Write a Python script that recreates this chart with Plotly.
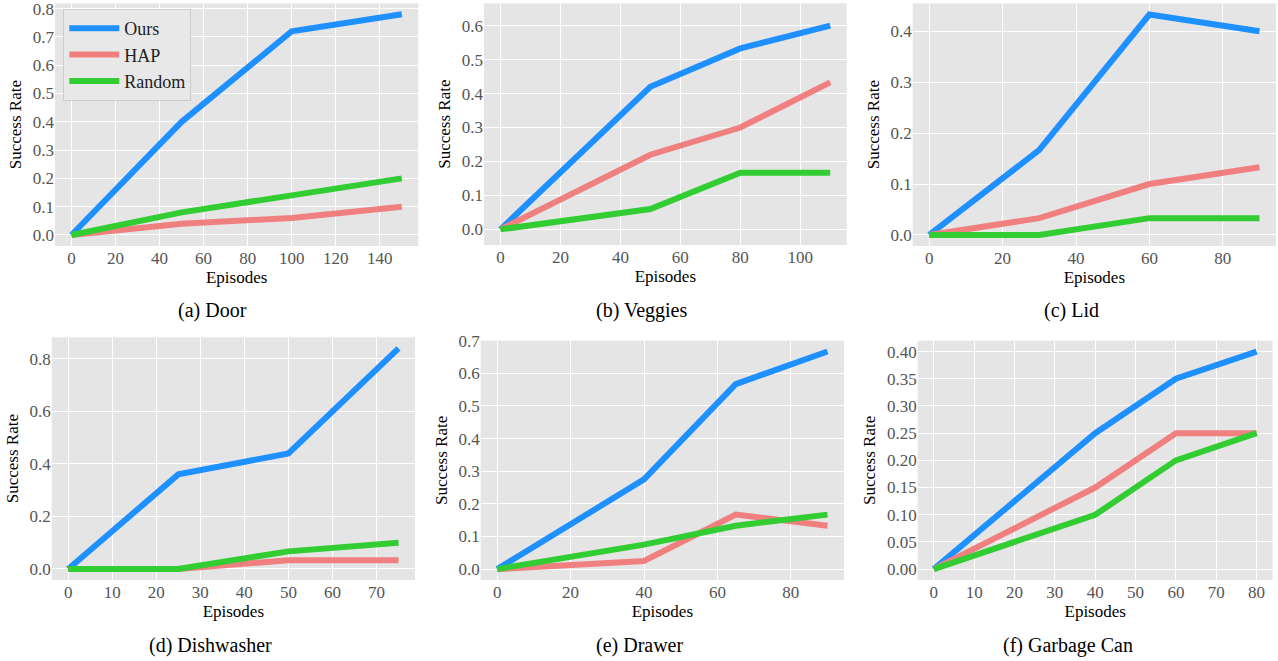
import plotly.graph_objects as go

W, H = 1278, 661

# ---------------- data ----------------
methods = ["Ours", "HAP", "Random"]
colors = {"Ours": "#1E90FF", "HAP": "#F08080", "Random": "#32CD32"}

door_x = [0, 50, 100, 150]
door_ours = [0.0, 0.40, 0.72, 0.78]
door_hap = [0.0, 0.04, 0.06, 0.10]
door_random = [0.0, 0.08, 0.14, 0.20]

veggies_x = [0, 50, 80, 110]
veggies_ours = [0.0, 0.42, 0.533, 0.60]
veggies_hap = [0.0, 0.22, 0.30, 0.433]
veggies_random = [0.0, 0.06, 0.167, 0.167]

lid_x = [0, 30, 60, 90]
lid_ours = [0.0, 0.167, 0.433, 0.40]
lid_hap = [0.0, 0.033, 0.10, 0.133]
lid_random = [0.0, 0.0, 0.033, 0.033]

dish_x = [0, 25, 50, 75]
dish_ours = [0.0, 0.36, 0.44, 0.84]
dish_hap = [0.0, 0.0, 0.033, 0.033]
dish_random = [0.0, 0.0, 0.067, 0.10]

drawer_x = [0, 40, 65, 90]
drawer_ours = [0.0, 0.275, 0.567, 0.667]
drawer_hap = [0.0, 0.025, 0.167, 0.133]
drawer_random = [0.0, 0.075, 0.133, 0.167]

garbage_x = [0, 40, 60, 80]
garbage_ours = [0.0, 0.25, 0.35, 0.40]
garbage_hap = [0.0, 0.15, 0.25, 0.25]
garbage_random = [0.0, 0.10, 0.20, 0.25]

captions = ["(a) Door", "(b) Veggies", "(c) Lid", "(d) Dishwasher", "(e) Drawer", "(f) Garbage Can"]

panels = [
    (door_x, {"Ours": door_ours, "HAP": door_hap, "Random": door_random}),
    (veggies_x, {"Ours": veggies_ours, "HAP": veggies_hap, "Random": veggies_random}),
    (lid_x, {"Ours": lid_ours, "HAP": lid_hap, "Random": lid_random}),
    (dish_x, {"Ours": dish_ours, "HAP": dish_hap, "Random": dish_random}),
    (drawer_x, {"Ours": drawer_ours, "HAP": drawer_hap, "Random": drawer_random}),
    (garbage_x, {"Ours": garbage_ours, "HAP": garbage_hap, "Random": garbage_random}),
]

# ---------------- layout (pixel boxes of each plot area) ----------------
boxes = [
    (55, 418.3, 3.3, 246),
    (484, 846.7, 3.3, 245),
    (912.7, 1276, 3.3, 246),
    (51.7, 415, 337.3, 580),
    (480.7, 844, 340.7, 580),
    (917.7, 1272.7, 340.7, 580),
]
xranges = [[-7.5, 157.5], [-5.5, 115.5], [-4.5, 94.5], [-3.75, 78.75], [-4.5, 94.5], [-4, 84]]
yranges = [[-0.039, 0.819], [-0.046, 0.666], [-0.0217, 0.455], [-0.042, 0.882], [-0.0333, 0.70], [-0.02, 0.42]]
xdticks = [20, 20, 20, 10, 20, 10]
ydticks = [0.1, 0.1, 0.1, 0.2, 0.1, 0.05]
yformats = [".1f", ".1f", ".1f", ".1f", ".1f", ".2f"]
caption_pos = [(212, 311), (641, 311), (1071, 311), (210, 645), (639, 645), (1068, 645)]

FONT = "Liberation Serif"
fig = go.Figure()

for i, (xs, series) in enumerate(panels):
    n = "" if i == 0 else str(i + 1)
    for m in methods:
        fig.add_trace(go.Scatter(
            x=xs, y=series[m], mode="lines", name=m,
            line=dict(color=colors[m], width=6),
            xaxis="x" + n, yaxis="y" + n,
            showlegend=(i == 0),
        ))
    x0, x1, y0, y1 = boxes[i]
    axcommon = dict(
        showgrid=True, gridcolor="white", gridwidth=1.2, zeroline=False,
        showline=False, ticks="", automargin=False, ticklabeloverflow="allow",
        tickfont=dict(family=FONT, size=17, color="#555555"),
    )
    title_font = dict(family=FONT, size=17, color="black")
    fig.layout["xaxis" + n] = dict(
        domain=[x0 / W, x1 / W], anchor="y" + n, range=xranges[i],
        tick0=0, dtick=xdticks[i],
        title=dict(text="Episodes", standoff=2, font=title_font),
        **axcommon,
    )
    fig.layout["yaxis" + n] = dict(
        domain=[1 - y1 / H, 1 - y0 / H], anchor="x" + n, range=yranges[i],
        tick0=0, dtick=ydticks[i], tickformat=yformats[i],
        title=dict(text="Success Rate", standoff=6, font=title_font),
        **axcommon,
    )
    cx, cy = caption_pos[i]
    fig.add_annotation(
        text=captions[i], x=cx / W, y=1 - cy / H, xref="paper", yref="paper",
        xanchor="center", yanchor="middle", showarrow=False,
        font=dict(family=FONT, size=20, color="black"),
    )

fig.update_layout(
    width=W, height=H, margin=dict(l=0, r=0, t=0, b=0, autoexpand=False),
    paper_bgcolor="white", plot_bgcolor="#E5E5E5",
    font=dict(family=FONT),
    legend=dict(
        x=63.3 / W, y=1 - 9 / H, xanchor="left", yanchor="top",
        bgcolor="#E8E8E8", bordercolor="#CCCCCC", borderwidth=1,
        font=dict(family=FONT, size=18, color="#222222"),
        itemwidth=50,
    ),
)

fig.write_html(
    "out.html",
    config={"displayModeBar": False},
    post_script="document.body.style.margin='0';document.body.style.overflow='hidden';",
)
